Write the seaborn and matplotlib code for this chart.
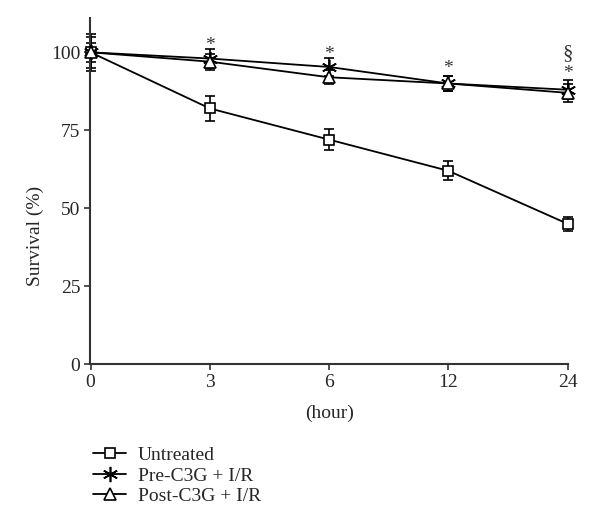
import numpy as np
import pandas as pd
import seaborn as sns
import matplotlib
matplotlib.use("Agg")
import matplotlib.pyplot as plt

sns.set_theme(style="ticks")
plt.rcParams["font.family"] = ["Liberation Serif", "DejaVu Serif"]

hours = ["0", "3", "6", "12", "24"]
untreated = [100, 82, 72, 62, 45]
untreated_err = [5, 4, 3.3, 3, 2.2]
pre = [100, 98, 95.3, 90, 88]
pre_err = [3, 3, 3, 2.5, 3]
post = [100, 97, 92, 90, 87]
post_err = [6, 2.6, 2.2, 2.5, 2.8]
star_y = [None, 99.5, 96.5, 92.2, 90.5]
section_y = 96.5

pos = np.arange(len(hours))

fig = plt.figure(figsize=(6, 5.3), dpi=100)
ax = fig.add_axes([0.15, 0.313, 0.797, 0.653])

series = [
    ("Untreated", untreated, untreated_err, "s", 7),
    ("Pre-C3G + I/R", pre, pre_err, (6, 2, 0), 11),
    ("Post-C3G + I/R", post, post_err, "^", 8),
]
handles = []
for name, vals, errs, mk, ms in series:
    df = pd.DataFrame({"pos": pos, "val": vals})
    eb = ax.errorbar(pos, vals, yerr=errs, fmt="none", ecolor="black",
                     elinewidth=1.2, capsize=3.5, capthick=1.2, zorder=2)
    for part in eb.lines[1] + eb.lines[2]:
        part.set_clip_on(False)
    sns.lineplot(data=df, x="pos", y="val", ax=ax, color="black", lw=1.3,
                 marker=mk, markersize=ms, markerfacecolor="white",
                 markeredgecolor="black", markeredgewidth=1.2, zorder=3,
                 clip_on=False)
    handles.append(ax.lines[-1])

for i, sy in enumerate(star_y):
    if sy is not None:
        ax.text(pos[i], sy, "*", ha="center", va="bottom", fontsize=14, color="#333333")
ax.text(pos[-1], section_y, "§", ha="center", va="bottom", fontsize=15, color="#333333")

ax.set_xlim(-0.005, 4.005)
ax.set_ylim(0, 111)
ax.set_xticks(pos)
ax.set_xticklabels(hours)
ax.set_yticks([0, 25, 50, 75, 100])
ax.tick_params(axis="both", labelsize=14, length=4, width=1.2, color="#333333",
               direction="out", pad=3)
ax.set_xlabel("(hour)", fontsize=14, labelpad=10)
ax.set_ylabel("Survival (%)", fontsize=14)
ax.yaxis.set_label_coords(-0.097, 0.37)
for s in ["left", "bottom"]:
    ax.spines[s].set_linewidth(1.5)
    ax.spines[s].set_color("#333333")
sns.despine(ax=ax)
ax.spines["bottom"].set_bounds(0, 4)

labels = [s[0] for s in series]
fig.legend(handles, labels, loc="upper left", bbox_to_anchor=(0.142, 0.172),
           frameon=False, fontsize=14, handlelength=1.7, handletextpad=0.6,
           labelspacing=0.15, borderaxespad=0)

fig.savefig("out.png", dpi=100)
